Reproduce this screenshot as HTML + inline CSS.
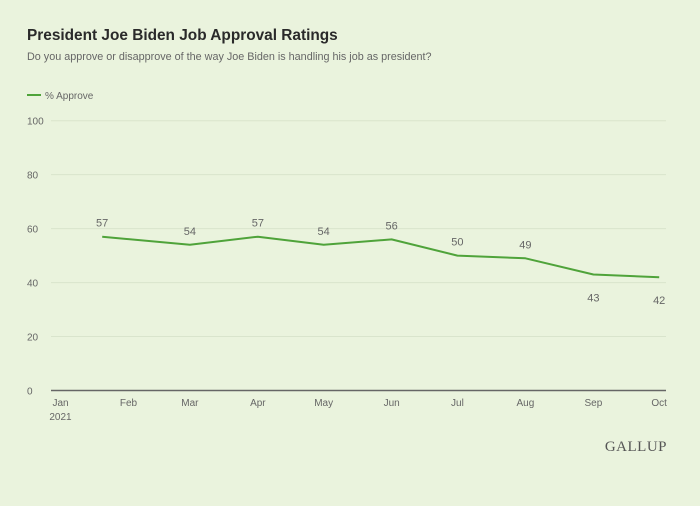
<!DOCTYPE html>
<html><head><meta charset="utf-8"><style>
html,body{margin:0;padding:0;background:#eaf3dd;}
body{width:700px;height:506px;position:relative;overflow:hidden;font-family:"Liberation Sans",sans-serif;}
.t{position:absolute;left:27px;top:27px;font-size:15.4px;font-weight:bold;color:#2a2a2a;}
.s{position:absolute;left:27px;top:51px;font-size:10.8px;color:#666;}
</style></head><body>
<div class="t">President Joe Biden Job Approval Ratings</div>
<div class="s">Do you approve or disapprove of the way Joe Biden is handling his job as president?</div>
<svg id="c" width="700" height="506" style="position:absolute;left:0;top:0"></svg>
<script>
const dates=["2021-01-20","2021-03-01","2021-04-01","2021-05-01","2021-06-01","2021-07-01","2021-08-01","2021-09-01","2021-10-01"];
const approve=[57,54,57,54,56,50,49,43,42];
const labelBelow=[false,false,false,false,false,false,false,true,true];
const yTicks=[0,20,40,60,80,100];
const monthTicks=["2021-01-01","2021-02-01","2021-03-01","2021-04-01","2021-05-01","2021-06-01","2021-07-01","2021-08-01","2021-09-01","2021-10-01"];
const monthLabels=["Jan","Feb","Mar","Apr","May","Jun","Jul","Aug","Sep","Oct"];
const NS="http://www.w3.org/2000/svg",svg=document.getElementById('c');
const t0=Date.UTC(2021,0,1);
function dayOf(s){const p=s.split('-');return (Date.UTC(+p[0],p[1]-1,+p[2])-t0)/864e5;}
function x(s){return 60.5+dayOf(s)*2.193;}
function y(v){return 390.5-v*2.698;}
function mk(tag,a,txt){const e=document.createElementNS(NS,tag);for(const k in a)e.setAttribute(k,a[k]);if(txt!=null)e.textContent=txt;svg.appendChild(e);return e;}
let e=mk('line',{x1:27,x2:41,y1:95,y2:95,stroke:'#4fa33a','stroke-width':2});


e=mk('text',{x:45,y:99,'font-size':10,fill:'#666'},'% Approve');


yTicks.forEach(v=>{
  const g=mk('line',{x1:51,x2:666,y1:y(v),y2:y(v),stroke:v===0?'#666':'#d9e4cc','stroke-width':v===0?1.5:1});
  
  
  const t=mk('text',{x:27,y:y(v)+4,'font-size':10,fill:'#666'},String(v));
  
  
});
monthTicks.forEach((d,i)=>{
  const t=mk('text',{x:x(d),y:406,'font-size':10,fill:'#666','text-anchor':'middle'},monthLabels[i]);
  
  
});
e=mk('text',{x:x(monthTicks[0]),y:420,'font-size':10,fill:'#666','text-anchor':'middle'},'2021');


const pts=dates.map((d,i)=>x(d).toFixed(1)+','+y(approve[i]).toFixed(1)).join(' ');
e=mk('polyline',{points:pts,fill:'none',stroke:'#4fa33a','stroke-width':2,'stroke-linejoin':'round'});


dates.forEach((d,i)=>{
  const yy=labelBelow[i]?y(approve[i])+27:y(approve[i])-10;
  const t=mk('text',{x:x(d),y:yy,'font-size':11,fill:'#666','text-anchor':'middle'},String(approve[i]));
  
  
});
e=mk('text',{x:667,y:451,'font-size':15,fill:'#555','text-anchor':'end','font-family':'Liberation Serif, serif','letter-spacing':'0.5'},'GALLUP');


</script>
</body></html>
